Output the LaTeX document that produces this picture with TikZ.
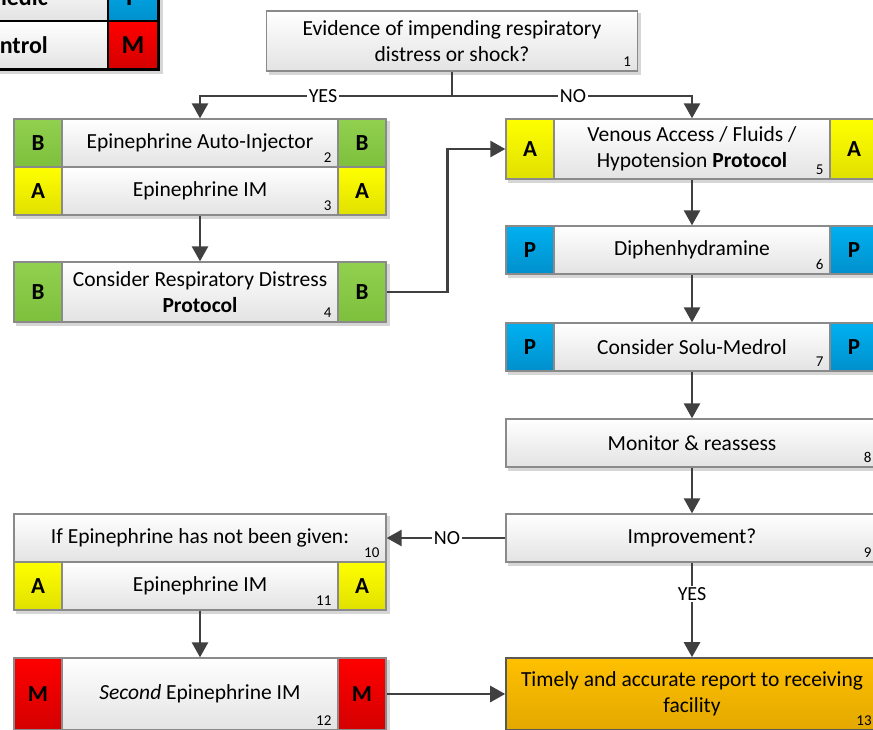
\documentclass[tikz,border=0pt]{standalone}
\usepackage{fontspec}
\setmainfont{Carlito}
\usetikzlibrary{arrows.meta,backgrounds}

\definecolor{edge}{HTML}{8A8A8A}
\definecolor{wirec}{HTML}{404040}
\definecolor{boxbot}{HTML}{E3E3E3}
\definecolor{grnTop}{HTML}{92D050}\definecolor{grnBot}{HTML}{7DC03C}
\definecolor{ylwTop}{HTML}{FFFF00}\definecolor{ylwBot}{HTML}{E0E000}
\definecolor{bluTop}{HTML}{00B0F0}\definecolor{bluBot}{HTML}{0090CC}
\definecolor{redTop}{HTML}{FF0000}\definecolor{redBot}{HTML}{D40000}
\definecolor{orgTop}{HTML}{FFC000}\definecolor{orgBot}{HTML}{E3A800}

\newcommand\maintext{\fontsize{21.5}{26}\selectfont}
\newcommand\tagtext{\fontsize{20}{24}\selectfont}
\newcommand\celltext{\fontsize{23}{26}\selectfont\bfseries}
\newcommand\numtext{\fontsize{15}{17}\selectfont}
\newcommand\legtext{\fontsize{24}{28}\selectfont\bfseries}
\newcommand\legcelltext{\fontsize{26}{30}\selectfont\bfseries}

\begin{document}
\begin{tikzpicture}[x=1pt,y=-1pt,
  panel/.style={draw=edge, line width=1.3pt, rectangle, inner sep=2pt, align=center,
    font=\maintext, top color=white, bottom color=boxbot},
  midbox/.style={panel, minimum width=276pt, minimum height=#1},
  widebox/.style={panel, minimum width=372pt, minimum height=#1},
  cellbox/.style={panel, font=\celltext, minimum width=48pt, minimum height=#1},
  grn/.style={cellbox=#1, top color=grnTop, bottom color=grnBot},
  ylw/.style={cellbox=#1, top color=ylwTop, bottom color=ylwBot},
  blu/.style={cellbox=#1, top color=bluTop, bottom color=bluBot},
  rd/.style={cellbox=#1, top color=redTop, bottom color=redBot},
  num/.style={font=\numtext, inner sep=1pt, anchor=south east},
  wire/.style={draw=wirec, line width=2.6pt},
  flow/.style={wire, -{Triangle[length=15pt,width=16pt]}},
  tag/.style={font=\tagtext, fill=white, inner sep=1.5pt},
  shadowfill/.style={fill=black, opacity=0.16},
  legcell/.style={draw=black, line width=2.2pt, rectangle, inner sep=0pt, minimum height=48pt},
]
\useasboundingbox (0,0) rectangle (873,730);
\clip (0,0) rectangle (873,730);

% legend (level of care)
\node[legcell, minimum width=308pt, top color=white, bottom color=boxbot] (lg1) at (-46,-3) {};
\node[legcell, minimum width=50pt, top color=bluTop, bottom color=bluBot, font=\legcelltext] (lgP) at (133,-3) {P};
\node[legcell, minimum width=308pt, top color=white, bottom color=boxbot] (lg2) at (-46,45) {};
\node[legcell, minimum width=50pt, top color=redTop, bottom color=redBot, font=\legcelltext] (lgM) at (133,45) {M};
\node[font=\legtext, anchor=east, inner sep=0pt] (lt1) at (48,-3) {Paramedic};
\node[font=\legtext, anchor=east, inner sep=0pt] (lt2) at (48,45) {Medical Control};
\draw[black, line width=2.6pt] (lg1.north west) rectangle (lgM.south east);

% top decision
\node[widebox=60pt, minimum width=371pt] (n1) at (452,41) {Evidence of impending respiratory\\distress or shock?};
\node[num] (k1) at ([shift={(-6,-4)}]n1.south east) {1};

% left column
\node[grn=48pt] (n2l) at (38,143) {B};
\node[midbox=48pt] (n2) at (200,143) {Epinephrine Auto-Injector};
\node[grn=48pt] (n2r) at (362,143) {B};
\node[num] (k2) at ([shift={(-6,-4)}]n2.south east) {2};

\node[ylw=48pt] (n3l) at (38,191) {A};
\node[midbox=48pt] (n3) at (200,191) {Epinephrine IM};
\node[ylw=48pt] (n3r) at (362,191) {A};
\node[num] (k3) at ([shift={(-6,-4)}]n3.south east) {3};

\node[grn=60pt] (n4l) at (38,292) {B};
\node[midbox=60pt] (n4) at (200,292) {Consider Respiratory Distress\\\textbf{Protocol}};
\node[grn=60pt] (n4r) at (362,292) {B};
\node[num] (k4) at ([shift={(-6,-4)}]n4.south east) {4};

\node[widebox=48pt] (n10) at (200,538) {If Epinephrine has not been given:};
\node[num] (k10) at ([shift={(-6,-4)}]n10.south east) {10};

\node[ylw=48pt] (n11l) at (38,586) {A};
\node[midbox=48pt] (n11) at (200,586) {Epinephrine IM};
\node[ylw=48pt] (n11r) at (362,586) {A};
\node[num] (k11) at ([shift={(-6,-4)}]n11.south east) {11};

\node[rd=72pt] (n12l) at (38,694) {M};
\node[midbox=72pt] (n12) at (200,694) {\textit{Second} Epinephrine IM};
\node[rd=72pt] (n12r) at (362,694) {M};
\node[num] (k12) at ([shift={(-6,-4)}]n12.south east) {12};

% right column
\node[ylw=60pt] (n5l) at (530,149) {A};
\node[midbox=60pt] (n5) at (692,149) {Venous Access / Fluids /\\Hypotension \textbf{Protocol}};
\node[ylw=60pt] (n5r) at (854,149) {A};
\node[num] (k5) at ([shift={(-6,-4)}]n5.south east) {5};

\node[blu=48pt] (n6l) at (530,250) {P};
\node[midbox=48pt] (n6) at (692,250) {Diphenhydramine};
\node[blu=48pt] (n6r) at (854,250) {P};
\node[num] (k6) at ([shift={(-6,-4)}]n6.south east) {6};

\node[blu=48pt] (n7l) at (530,347) {P};
\node[midbox=48pt] (n7) at (692,347) {Consider Solu-Medrol};
\node[blu=48pt] (n7r) at (854,347) {P};
\node[num] (k7) at ([shift={(-6,-4)}]n7.south east) {7};

\node[widebox=48pt] (n8) at (692,443) {Monitor \& reassess};
\node[num] (k8) at ([shift={(-6,-4)}]n8.south east) {8};

\node[widebox=48pt] (n9) at (692,538) {Improvement?};
\node[num] (k9) at ([shift={(-6,-4)}]n9.south east) {9};

\node[widebox=72pt, draw=black!65, line width=1.6pt, top color=orgTop, bottom color=orgBot] (n13) at (692,694) {Timely and accurate report to receiving\\facility};
\node[num] (k13) at ([shift={(-6,-4)}]n13.south east) {13};

% soft shadows behind each block
\begin{scope}[on background layer]
  \foreach \a/\b in {n1/n1, n2l/n3r, n4l/n4r, n5l/n5r, n6l/n6r, n7l/n7r, n8/n8, n9/n9, n10/n11r, n12l/n12r, n13/n13}
    \fill[shadowfill] ([shift={(3,3)}]\a.north west) rectangle ([shift={(3,3)}]\b.south east);
  \fill[shadowfill] ([shift={(4,4)}]lg1.north west) rectangle ([shift={(4,4)}]lgM.south east);
\end{scope}

% connectors
\coordinate (fork) at (452,96);
\draw[wire] (n1.south) -- (fork);
\draw[flow] (fork) -| (n2.north);
\draw[flow] (fork) -| (n5.north);
\node[tag] (yes1) at (323,96) {YES};
\node[tag] (no1) at (573,96) {NO};
\draw[flow] (n3.south) -- (n4.north);
\draw[flow] (n4r.east) -- ++(61,0) |- (n5l.west);
\draw[flow] (n5.south) -- (n6.north);
\draw[flow] (n6.south) -- (n7.north);
\draw[flow] (n7.south) -- (n8.north);
\draw[flow] (n8.south) -- (n9.north);
\draw[flow] (n9.west) -- (n10.east);
\node[tag] (no2) at (447,538) {NO};
\draw[flow] (n9.south) -- (n13.north);
\node[tag] (yes2) at (692,594) {YES};
\draw[flow] (n11.south) -- (n12.north);
\draw[flow] (n12r.east) -- (n13.west);
\end{tikzpicture}
\end{document}
